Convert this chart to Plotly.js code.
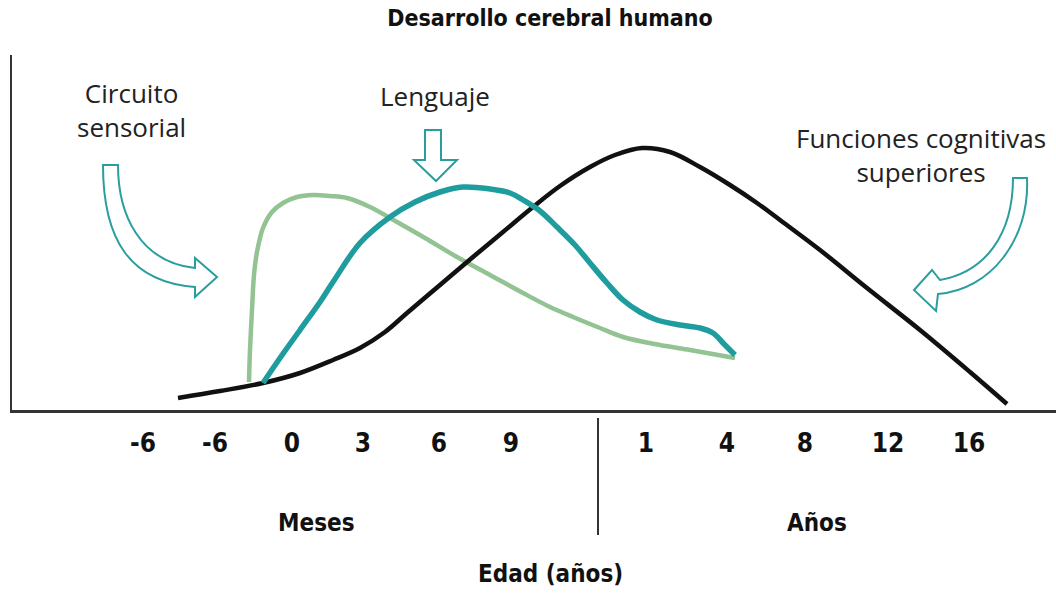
<!DOCTYPE html>
<html>
<head>
<meta charset="utf-8">
<script src="https://cdn.plot.ly/plotly-3.0.1.min.js"></script>
<style>html,body{margin:0;padding:0;background:#fff;}#chart{width:1056px;height:594px;}</style>
</head>
<body>
<div id="chart"></div>
<script>
// Tick labels of the age axis and their positions along the (stylised) axis
const tickLabels = ['-6', '-6', '0', '3', '6', '9', '1', '4', '8', '12', '16'];
const tickPositions = [143, 215, 292, 363, 439, 511, 646, 727, 805, 888, 969];

// Curves: position along the age axis and development level
const cognitivasX = [178, 220, 263, 300, 333, 360, 385, 407, 440, 473, 503, 533, 560, 590, 615, 642, 670, 700, 730, 757, 780, 820, 867, 920, 970, 1007];
const cognitivasY = [12, 19, 27, 37, 50, 62, 78, 97, 125, 153, 178, 203, 224, 243, 255, 262, 258, 243, 225, 207, 190, 160, 122, 80, 38, 6];

const sensorialX = [249, 250, 252, 254, 257, 263, 272, 283, 297, 313, 330, 347, 370, 390, 425, 457, 490, 523, 550, 573, 600, 623, 660, 690, 735];
const sensorialY = [28, 60, 100, 135, 158, 182, 198, 207, 213, 215, 214, 212, 203, 192, 172, 153, 135, 117, 103, 93, 82, 73, 65, 60, 52];

const lenguajeX = [263, 280, 300, 320, 333, 360, 390, 415, 440, 463, 490, 510, 523, 540, 557, 575, 590, 607, 623, 640, 657, 680, 700, 713, 724, 735];
const lenguajeY = [27, 52, 80, 108, 128, 167, 193, 208, 218, 223, 221, 217, 210, 199, 183, 165, 147, 127, 110, 98, 90, 85, 82, 77, 66, 55];

const TEAL = '#1f9c9d';
const GREEN = '#93c293';
const ARROW = '#2a9e9e';
const COND = '"DejaVu Sans Condensed", "DejaVu Sans", sans-serif';
const TEXTF = '"Open Sans", Roboto, sans-serif';

const traces = [
  {x: sensorialX, y: sensorialY, mode: 'lines', name: 'Circuito sensorial',
   line: {color: GREEN, width: 4.5, shape: 'spline', smoothing: 1}, hoverinfo: 'skip'},
  {x: cognitivasX, y: cognitivasY, mode: 'lines', name: 'Funciones cognitivas superiores',
   line: {color: '#111111', width: 4.5, shape: 'spline', smoothing: 1}, hoverinfo: 'skip'},
  {x: lenguajeX, y: lenguajeY, mode: 'lines', name: 'Lenguaje',
   line: {color: TEAL, width: 5.5, shape: 'spline', smoothing: 1}, hoverinfo: 'skip'}
];

// plot frame: y axis 0..355 maps to the drawing height
const Y0 = 410;
function p(x, y) { return x + ',' + (Y0 - y); }

const arrowSensorial = 'M' + p(103,165) + ' L' + p(118,165) +
  ' C' + p(118,215) + ' ' + p(140,262) + ' ' + p(195,268) +
  ' L' + p(195,258) + ' L' + p(217,277) + ' L' + p(195,297) + ' L' + p(195,287) +
  ' C' + p(130,282) + ' ' + p(103,240) + ' ' + p(103,165) + ' Z';
const arrowLenguaje = 'M' + p(425,130) + ' L' + p(441,130) + ' L' + p(441,160) + ' L' + p(457,160) +
  ' L' + p(436,181) + ' L' + p(414,160) + ' L' + p(425,160) + ' Z';
const arrowCognitivas = 'M' + p(1013,178) + ' L' + p(1027,178) +
  ' C' + p(1030,240) + ' ' + p(990,290) + ' ' + p(938,294) +
  ' L' + p(936,311) + ' L' + p(914,290) + ' L' + p(932,270) + ' L' + p(940,280) +
  ' C' + p(985,272) + ' ' + p(1013,235) + ' ' + p(1013,178) + ' Z';

const layout = {
  width: 1056, height: 594,
  margin: {l: 12, r: 0, t: 55, b: 184},
  paper_bgcolor: '#ffffff', plot_bgcolor: '#ffffff',
  showlegend: false,
  title: {text: 'Desarrollo cerebral humano', x: 550/1056, xref: 'container', xanchor: 'center',
          y: 1 - 18/594, yref: 'container', yanchor: 'middle',
          font: {family: COND, size: 23, color: '#111', weight: 'bold'}},
  xaxis: {range: [12, 1056], showgrid: false, zeroline: false, showline: true,
          linecolor: '#333', linewidth: 2.5, ticks: '', tickvals: tickPositions, ticktext: tickLabels,
          ticklabelstandoff: 8, tickfont: {family: COND, size: 26, color: '#111', weight: 'bold'}, fixedrange: true},
  yaxis: {range: [0, 355], showgrid: false, zeroline: false, showline: true,
          linecolor: '#333', linewidth: 2.5, ticks: '', showticklabels: false, fixedrange: true},
  shapes: [
    {type: 'path', xref: 'x', yref: 'y', path: arrowSensorial, line: {color: ARROW, width: 2}},
    {type: 'path', xref: 'x', yref: 'y', path: arrowLenguaje, line: {color: ARROW, width: 2}},
    {type: 'path', xref: 'x', yref: 'y', path: arrowCognitivas, line: {color: ARROW, width: 2}},
    {type: 'line', xref: 'x', yref: 'paper', x0: 598, x1: 598, y0: -8/355, y1: -125/355,
     line: {color: '#333', width: 2}}
  ],
  annotations: [
    {text: 'Circuito<br>sensorial', x: 131, y: 300, xref: 'x', yref: 'y', showarrow: false,
     font: {family: TEXTF, size: 26, color: '#222'}, xanchor: 'center', yanchor: 'middle'},
    {text: 'Lenguaje', x: 435, y: 314, xref: 'x', yref: 'y', showarrow: false,
     font: {family: TEXTF, size: 26, color: '#222'}, xanchor: 'center', yanchor: 'middle'},
    {text: 'Funciones cognitivas<br>superiores', x: 921, y: 255, xref: 'x', yref: 'y', showarrow: false,
     font: {family: TEXTF, size: 26, color: '#222'}, xanchor: 'center', yanchor: 'middle'},
    {text: 'Meses', x: 316, y: -113/355, xref: 'x', yref: 'paper', showarrow: false,
     font: {family: COND, size: 24, color: '#111', weight: 'bold'}, xanchor: 'center', yanchor: 'middle'},
    {text: 'Años', x: 817, y: -113/355, xref: 'x', yref: 'paper', showarrow: false,
     font: {family: COND, size: 24, color: '#111', weight: 'bold'}, xanchor: 'center', yanchor: 'middle'},
    {text: 'Edad (años)', x: 550, y: -164/355, xref: 'x', yref: 'paper', showarrow: false,
     font: {family: COND, size: 24, color: '#111', weight: 'bold'}, xanchor: 'center', yanchor: 'middle'}
  ]
};

Plotly.newPlot('chart', traces, layout, {displayModeBar: false, staticPlot: true});
</script>
</body>
</html>
